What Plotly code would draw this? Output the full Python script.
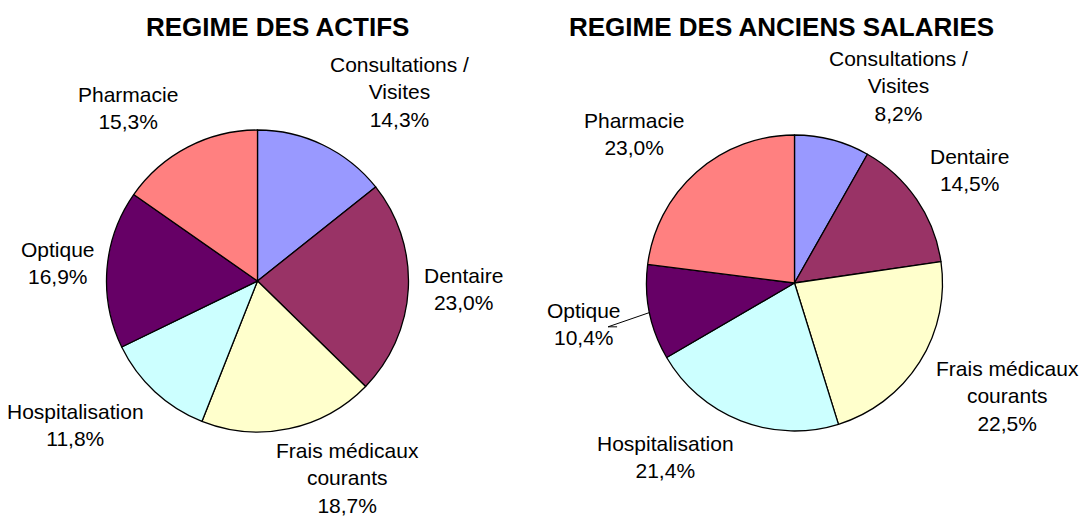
import math
import plotly.graph_objects as go

W, H = 1085, 516

# ── Data ────────────────────────────────────────────────────────────────────
CATEGORIES = ["Consultations /<br>Visites", "Dentaire", "Frais médicaux<br>courants",
              "Hospitalisation", "Optique", "Pharmacie"]
ACTIFS_PCT = [14.3, 23.0, 18.7, 11.8, 16.9, 15.3]
ANCIENS_PCT = [8.2, 14.5, 22.5, 21.4, 10.4, 23.0]
TITLES = ["REGIME DES ACTIFS", "REGIME DES ANCIENS SALARIES"]

# ── Style ───────────────────────────────────────────────────────────────────
COLORS = ["#9999FF", "#993366", "#FFFFCC", "#CCFFFF", "#660066", "#FF8080"]
FONT = "Liberation Sans, Arial, sans-serif"
LABEL_SIZE = 21
LINE_H = 26
TITLE_SIZE = 26
GAP = 13
LABEL_DY = -2

# pie geometry in pixels (centre, radius), title centre, labels pulled away with a leader
PIES = [
    dict(cx=257.5, cy=281, r=151, tx=277.5, ty=27, pull={}),
    dict(cx=794.5, cy=283, r=148, tx=781.5, ty=27, pull={"Optique": 17}),
]


def text_width(s, size=LABEL_SIZE):
    w = 0.0
    for ch in s:
        if ch in "ilt/,. fjI":
            w += 0.27
        elif ch in "mMW%":
            w += 0.85
        elif ch.isupper():
            w += 0.7
        else:
            w += 0.55
    return w * size


def clamp(v):
    return max(-1.0, min(1.0, v))


fig = go.Figure()

for pie, title, vals in zip(PIES, TITLES, [ACTIFS_PCT, ANCIENS_PCT]):
    cx, cy, r = pie["cx"], pie["cy"], pie["r"]
    fig.add_trace(go.Pie(
        labels=[c.replace("<br>", " ") for c in CATEGORIES],
        values=vals,
        sort=False, direction="clockwise", rotation=0,
        marker=dict(colors=COLORS, line=dict(color="black", width=1.3)),
        textinfo="none", hoverinfo="label+percent",
        domain=dict(x=[(cx - r) / W, (cx + r) / W], y=[1 - (cy + r) / H, 1 - (cy - r) / H]),
        showlegend=False,
    ))

    fig.add_annotation(
        x=pie["tx"] / W, y=1 - pie["ty"] / H, xref="paper", yref="paper",
        text=f"<b>{title}</b>", showarrow=False, xanchor="center", yanchor="middle",
        font=dict(family=FONT, size=TITLE_SIZE, color="black"),
    )

    # labels outside the slices, placed along the mid angle
    total = sum(vals)
    acc = 0.0
    for name, v in zip(CATEGORIES, vals):
        mid = (acc + v / 2) / total * 2 * math.pi
        acc += v
        dx, dy = math.sin(mid), -math.cos(mid)
        lines = name.split("<br>") + [f"{v:.1f}%".replace(".", ",")]
        w = max(text_width(l) for l in lines)
        h = len(lines) * LINE_H
        extra = pie["pull"].get(lines[0], 0)
        dist = r + GAP + extra
        px = cx + dist * dx + clamp(dx * 3.5) * w / 2
        py = cy + dist * dy + clamp(dy * 1.4) * h / 2 + LABEL_DY
        fig.add_annotation(
            x=px / W, y=1 - py / H, xref="paper", yref="paper",
            text="<br>".join(lines), showarrow=False,
            xanchor="center", yanchor="middle", align="center",
            font=dict(family=FONT, size=LABEL_SIZE, color="black"),
        )
        if extra:
            ex, ey = cx + r * dx, cy + r * dy
            near_x = px - math.copysign(w / 2, dx) + math.copysign(3, dx)
            elbow_x = near_x + math.copysign(9, dx)
            ly = py + 3
            path = (f"M {ex / W},{1 - ey / H} L {elbow_x / W},{1 - ly / H} "
                    f"L {near_x / W},{1 - ly / H}")
            fig.add_shape(type="path", path=path, xref="paper", yref="paper",
                          line=dict(color="black", width=1))

fig.update_layout(
    width=W, height=H,
    margin=dict(l=0, r=0, t=0, b=0),
    paper_bgcolor="white", plot_bgcolor="white",
    font=dict(family=FONT, color="black"),
)

# drop the browser's default page margin so the figure sits at the window origin
fig.write_html("out.html", config={"displayModeBar": False},
               post_script="document.body.style.margin = '0';")
